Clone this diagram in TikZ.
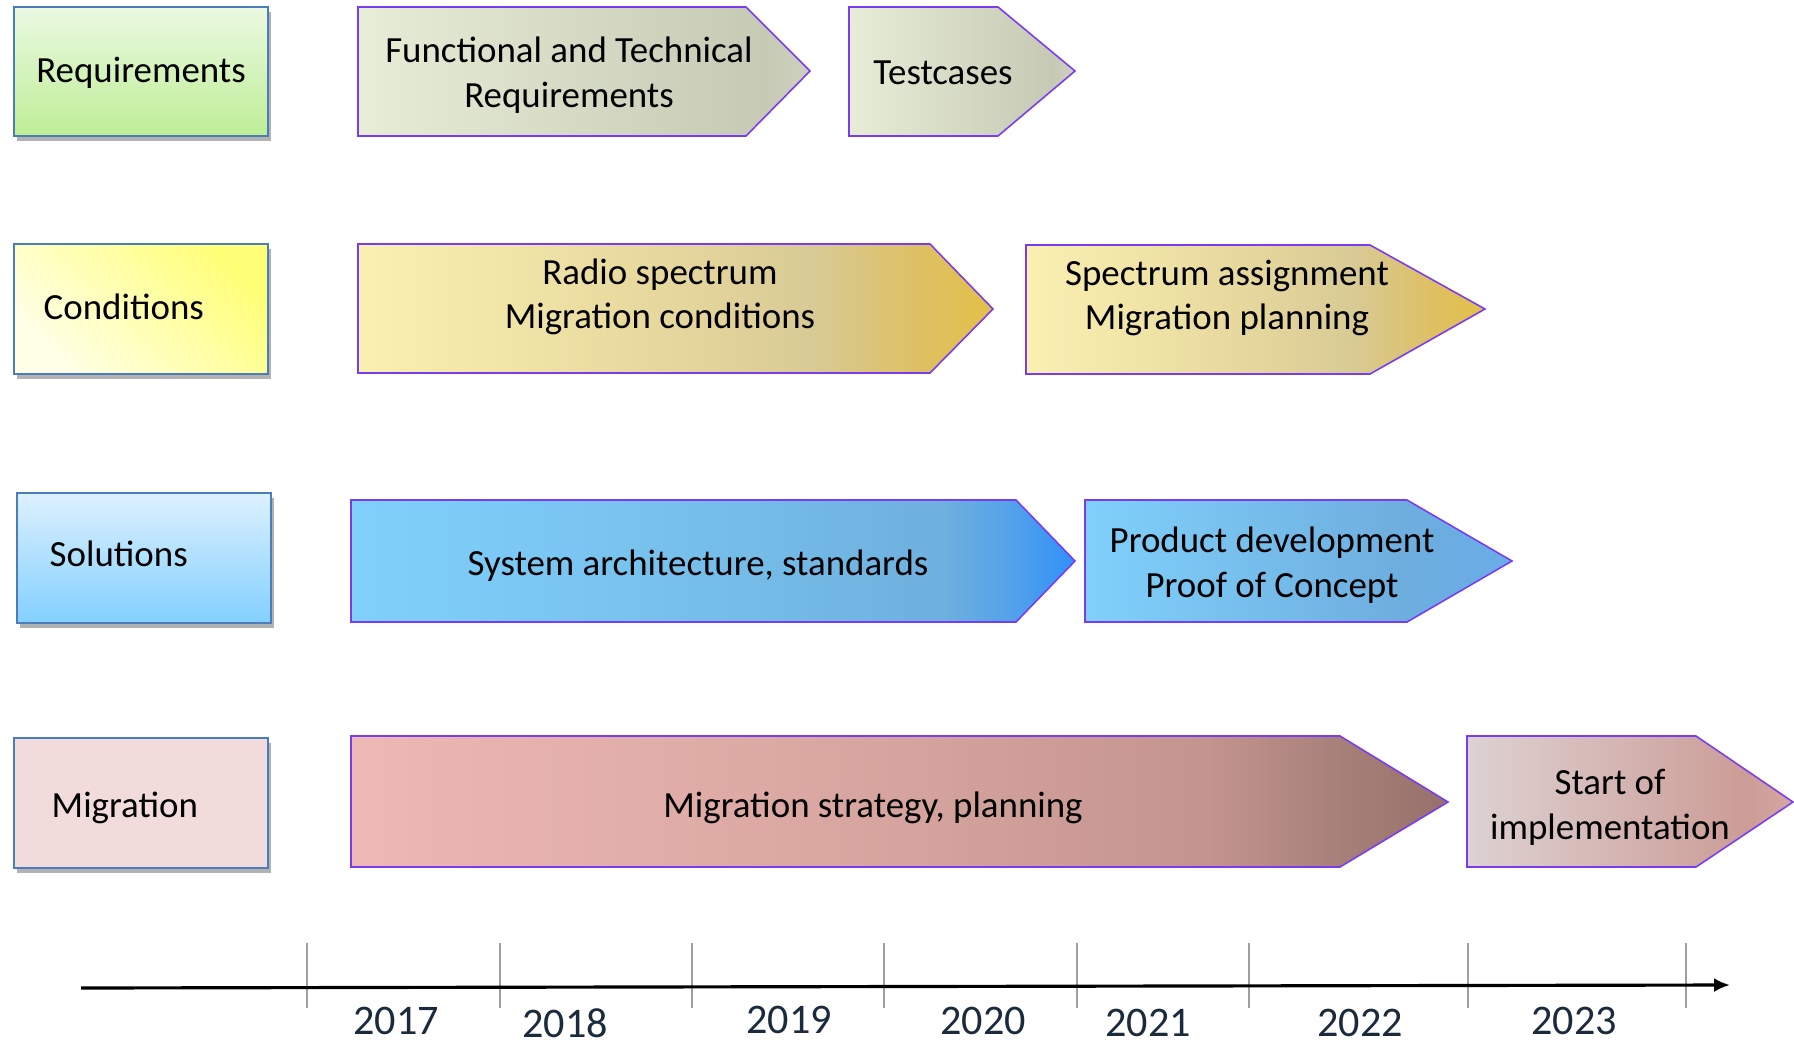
\documentclass[tikz,border=0pt]{standalone}
\usepackage{fontspec}
\setmainfont{Carlito}
\usetikzlibrary{arrows.meta,shadows}

\definecolor{laneborder}{HTML}{4A7EBB}
\definecolor{phaseborder}{HTML}{7A3CF0}
\definecolor{reqtop}{HTML}{EBF9E2}
\definecolor{reqbot}{HTML}{BEEE96}
\definecolor{condlight}{HTML}{FFFFE8}
\definecolor{condyellow}{HTML}{FFFF78}
\definecolor{soltop}{HTML}{DDF0FF}
\definecolor{solbot}{HTML}{82D0FF}
\definecolor{migfill}{HTML}{F2DCDB}
\definecolor{yearcol}{HTML}{1B2B3C}

%prechody farieb pre sipky (25bp = lavy okraj, 75bp = hrot)
\pgfdeclarehorizontalshading{reqshade}{100bp}{
  color(0bp)=(rgb,255:red,232;green,237;blue,216); color(25bp)=(rgb,255:red,232;green,237;blue,216);
  color(70bp)=(rgb,255:red,198;green,202;blue,180); color(75bp)=(rgb,255:red,206;green,208;blue,190);
  color(100bp)=(rgb,255:red,206;green,208;blue,190)}
\pgfdeclarehorizontalshading{condshade}{100bp}{
  color(0bp)=(rgb,255:red,250;green,240;blue,178); color(25bp)=(rgb,255:red,250;green,240;blue,178);
  color(45bp)=(rgb,255:red,234;green,220;blue,160); color(61bp)=(rgb,255:red,216;green,202;blue,148);
  color(69bp)=(rgb,255:red,222;green,192;blue,100); color(75bp)=(rgb,255:red,226;green,192;blue,72);
  color(100bp)=(rgb,255:red,226;green,192;blue,72)}
\pgfdeclarehorizontalshading{solshade}{100bp}{
  color(0bp)=(rgb,255:red,128;green,208;blue,252); color(25bp)=(rgb,255:red,128;green,208;blue,252);
  color(50bp)=(rgb,255:red,118;green,190;blue,234); color(66bp)=(rgb,255:red,110;green,176;blue,222);
  color(71bp)=(rgb,255:red,80;green,160;blue,235); color(75bp)=(rgb,255:red,48;green,144;blue,248);
  color(100bp)=(rgb,255:red,48;green,144;blue,248)}
\pgfdeclarehorizontalshading{prodshade}{100bp}{
  color(0bp)=(rgb,255:red,128;green,208;blue,252); color(25bp)=(rgb,255:red,128;green,208;blue,252);
  color(62bp)=(rgb,255:red,110;green,174;blue,222); color(75bp)=(rgb,255:red,104;green,172;blue,232);
  color(100bp)=(rgb,255:red,104;green,172;blue,232)}
\pgfdeclarehorizontalshading{migshade}{100bp}{
  color(0bp)=(rgb,255:red,238;green,184;blue,180); color(25bp)=(rgb,255:red,238;green,184;blue,180);
  color(50bp)=(rgb,255:red,214;green,164;blue,158); color(64bp)=(rgb,255:red,196;green,148;blue,142);
  color(70bp)=(rgb,255:red,168;green,128;blue,122); color(75bp)=(rgb,255:red,150;green,112;blue,106);
  color(100bp)=(rgb,255:red,150;green,112;blue,106)}
\pgfdeclarehorizontalshading{implshade}{100bp}{
  color(0bp)=(rgb,255:red,221;green,210;blue,210); color(25bp)=(rgb,255:red,221;green,210;blue,210);
  color(68bp)=(rgb,255:red,204;green,156;blue,150); color(75bp)=(rgb,255:red,214;green,168;blue,162);
  color(100bp)=(rgb,255:red,214;green,168;blue,162)}

\tikzset{
  lane/.style={draw=laneborder, line width=0.6pt,
    drop shadow={shadow xshift=0.9pt, shadow yshift=-1.3pt, opacity=0.3, fill=black}},
  phase/.style={draw=phaseborder, line width=0.45pt},
  lanetext/.style={font=\fontsize{10.5}{12.7}\selectfont, inner sep=0pt},
  phasetext/.style={font=\fontsize{10.5}{12.7}\selectfont, align=center, inner sep=0pt},
  yearmark/.style={draw=gray!75, line width=0.3pt},
  year/.style={font=\fontsize{12}{14}\selectfont, text=yearcol, inner sep=0pt}
}

\begin{document}
\begin{tikzpicture}[x=0.1mm, y=-0.1mm]
  \useasboundingbox (0,0) rectangle (1794,1044);

  %bloky vlavo
  \draw[lane, top color=reqtop, bottom color=reqbot] (14,7) rectangle (268,136);
  \draw[lane, top color=condyellow, bottom color=condlight, shading angle=-45] (14,244) rectangle (268,374);
  \draw[lane, top color=soltop, bottom color=solbot] (17,493) rectangle (271,623);
  \draw[lane, fill=migfill] (14,738) rectangle (268,868);
  \node[lanetext] (req) at (141,73) {Requirements};
  \node[lanetext, anchor=west] (cond) at (43,307) {Conditions};
  \node[lanetext, anchor=west] (sol) at (49,554) {Solutions};
  \node[lanetext, anchor=west] (mig) at (51,808) {Migration};

  %riadok 1
  \draw[phase, shading=reqshade] (358,7) -- (746,7) -- (810,71) -- (746,136) -- (358,136) -- cycle;
  \draw[phase, shading=reqshade] (849,7) -- (998,7) -- (1075,71) -- (998,136) -- (849,136) -- cycle;
  \node[phasetext] (functech) at (569,75) {Functional and Technical\\Requirements};
  \node[phasetext] (testcases) at (943,73) {Testcases};

  %riadok 2
  \draw[phase, shading=condshade] (358,244) -- (930,244) -- (993,309) -- (930,373) -- (358,373) -- cycle;
  \draw[phase, shading=condshade] (1026,245) -- (1370,245) -- (1485,309) -- (1370,374) -- (1026,374) -- cycle;
  \node[phasetext] (radio) at (660,297) {Radio spectrum\\Migration conditions};
  \node[phasetext] (assign) at (1227,298) {Spectrum assignment\\Migration planning};

  %riadok 3
  \draw[phase, shading=solshade] (351,500) -- (1016,500) -- (1075,561) -- (1016,622) -- (351,622) -- cycle;
  \draw[phase, shading=prodshade] (1085,500) -- (1407,500) -- (1512,561) -- (1407,622) -- (1085,622) -- cycle;
  \node[phasetext] (sysarch) at (698,566) {System architecture, standards};
  \node[phasetext] (product) at (1272,565) {Product development\\Proof of Concept};

  %riadok 4
  \draw[phase, shading=migshade] (351,736) -- (1340,736) -- (1448,802) -- (1340,867) -- (351,867) -- cycle;
  \draw[phase, shading=implshade] (1467,736) -- (1696,736) -- (1793,802) -- (1696,867) -- (1467,867) -- cycle;
  \node[phasetext] (strategy) at (873,808) {Migration strategy, planning};
  \node[phasetext] (impl) at (1610,807) {Start of\\implementation};

  %casova os
  \coordinate (t0) at (81,988);
  \coordinate (t1) at (1730,985);
  \foreach \x in {307,500,692,884,1077,1249,1468,1686}
    \draw[yearmark] (\x,943) -- (\x,1008);
  \draw[line width=0.9pt, -{Latex[length=1.6mm,width=1.4mm]}] (t0) -- (t1);
  \foreach \yr/\x/\y in {2017/396/1021, 2018/565/1023, 2019/789/1020, 2020/983/1021,
                         2021/1148/1023, 2022/1360/1023, 2023/1574/1021}
    \node[year] (y\yr) at (\x,\y) {\yr};
\end{tikzpicture}
\end{document}
